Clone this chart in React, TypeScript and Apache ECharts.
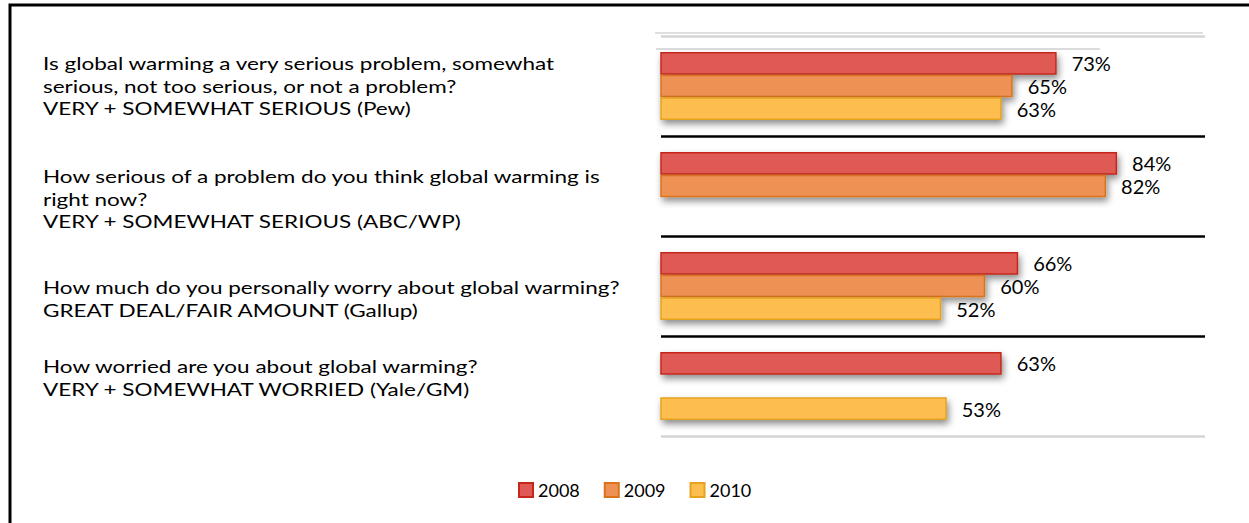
import React, { useEffect, useRef } from "react";
import * as echarts from "echarts";

const categories = ["Pew", "ABC/WP", "Gallup", "Yale/GM"];
const questionLines = [
  ["Is global warming a very serious problem, somewhat", "serious, not too serious, or not a problem?", "VERY + SOMEWHAT SERIOUS (Pew)"],
  ["How serious of a problem do you think global warming is", "right now?", "VERY + SOMEWHAT SERIOUS (ABC/WP)"],
  ["How much do you personally worry about global warming?", "GREAT DEAL/FAIR AMOUNT (Gallup)"],
  ["How worried are you about global warming?", "VERY + SOMEWHAT WORRIED (Yale/GM)"],
];
const questionTop = [52, 165, 276, 355];
const years = ["2008", "2009", "2010"];
const s2008 = [73, 84, 66, 63];
const s2009 = [65, 82, 60, null];
const s2010 = [63, null, 52, 53];

const fills = ["#e05a55", "#ee9155", "#fdbe50"];
const borders = ["#c4281c", "#d9731c", "#e6a21e"];
const FONT = "Lato, 'Open Sans', sans-serif";

export default function App() {
  const ref = useRef<HTMLDivElement>(null);
  useEffect(() => {
    document.body.style.margin = "0";
    const chart = echarts.init(ref.current!, null, { renderer: "svg" });
    const seriesData = [s2008, s2009, s2010];
    const graphic: any[] = [
      { type: "rect", shape: { x: 10, y: 5, width: 1300, height: 600 }, style: { fill: "none", stroke: "#000", lineWidth: 3 }, silent: true },
      { type: "line", shape: { x1: 655, y1: 33, x2: 1203, y2: 33 }, style: { stroke: "#d4d4d4", lineWidth: 1.5 } },
      { type: "line", shape: { x1: 656, y1: 49, x2: 1100, y2: 49 }, style: { stroke: "#d0d0d0", lineWidth: 1.5 } },
    ];
    questionLines.forEach((lines, i) => {
      graphic.push({
        type: "text",
        x: 43,
        y: questionTop[i],
        scaleX: 1.25,
        style: { text: lines.join("\n"), font: `18px ${FONT}`, fill: "#000", lineHeight: 22.5 },
      });
    });
    chart.setOption({
      animation: false,
      grid: { left: 661, right: 44, top: 36, height: 400, containLabel: false },
      xAxis: { type: "value", min: 1, max: 100, show: false },
      yAxis: {
        type: "category",
        data: categories,
        inverse: true,
        axisLine: { show: false },
        axisTick: { show: false },
        axisLabel: { show: false },
        splitLine: { show: true, lineStyle: { color: ["#d4d4d4", "#000", "#000", "#000", "#d4d4d4"], width: 2.5 } },
      },
      legend: {
        left: 518,
        top: 481,
        padding: 0,
        itemWidth: 14,
        itemHeight: 14,
        itemGap: 24,
        icon: "rect",
        textStyle: { fontSize: 18, fontFamily: FONT, color: "#000" },
        data: years,
      },
      graphic,
      series: years.map((y, i) => ({
        name: y,
        type: "bar",
        data: seriesData[i],
        barGap: "0%",
        barCategoryGap: "32%",
        itemStyle: {
          color: fills[i],
          borderColor: borders[i],
          borderWidth: 1.5,
          shadowColor: "rgba(0,0,0,0.45)",
          shadowBlur: 7,
          shadowOffsetX: 2,
          shadowOffsetY: 4,
        },
        label: {
          show: true,
          position: "right",
          distance: 15,
          formatter: "{c}%",
          fontSize: 20,
          fontFamily: FONT,
          color: "#000",
        },
      })),
    });
    return () => chart.dispose();
  }, []);
  return <div ref={ref} style={{ width: 1249, height: 523 }} />;
}
